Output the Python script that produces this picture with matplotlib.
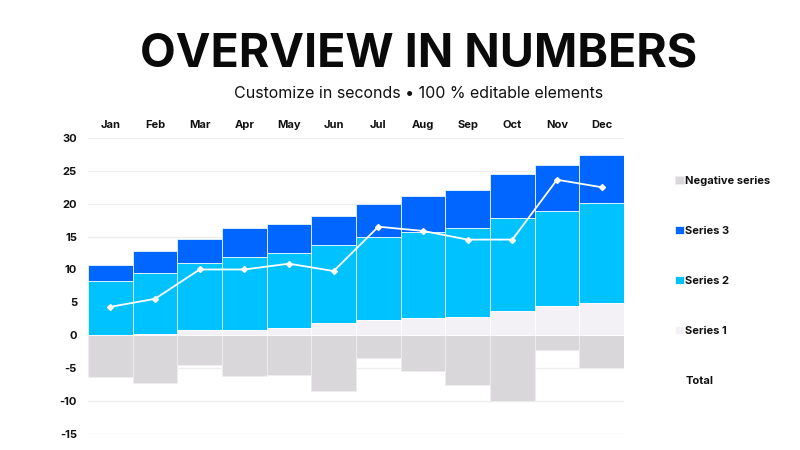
import matplotlib
matplotlib.use("Agg")
import matplotlib.pyplot as plt
import numpy as np

months = ["Jan", "Feb", "Mar", "Apr", "May", "Jun", "Jul", "Aug", "Sep", "Oct", "Nov", "Dec"]
series1 = [0.0, 0.15, 0.76, 0.86, 1.17, 1.83, 2.39, 2.64, 2.85, 3.71, 4.42, 4.83]
series2 = [8.24, 9.31, 10.22, 11.04, 11.33, 11.87, 12.56, 13.12, 13.45, 14.14, 14.48, 15.27]
series3 = [2.44, 3.30, 3.62, 4.37, 4.40, 4.45, 4.98, 5.44, 5.80, 6.71, 7.00, 7.30]
negative = [-6.35, -7.2, -4.58, -6.2, -6.1, -8.44, -3.5, -5.39, -7.63, -10.0, -2.29, -4.93]
total = [4.32, 5.54, 10.0, 10.0, 10.88, 9.76, 16.5, 15.86, 14.54, 14.54, 23.64, 22.5]
yticks = [30, 25, 20, 15, 10, 5, 0, -5, -10, -15]

c_s1 = "#F3F1F5"
c_s2 = "#00C2FF"
c_s3 = "#0066FF"
c_neg = "#D9D7DA"

plt.rcParams['font.family'] = ['Inter', 'DejaVu Sans']

fig = plt.figure(figsize=(8, 4.5), dpi=100)
ax = fig.add_axes([0.11, 0.0356, 0.67, 0.658])

x = np.arange(len(months))
s1 = np.array(series1)
s2 = np.array(series2)
s3 = np.array(series3)
ec = dict(edgecolor="#E8F6FF", linewidth=0.6, width=1.0, zorder=2)
ax.bar(x, negative, color=c_neg, label="Negative series", **dict(ec, edgecolor="#EEEEEE"))
ax.bar(x, s3, bottom=s1 + s2, color=c_s3, label="Series 3", **ec)
ax.bar(x, s2, bottom=s1, color=c_s2, label="Series 2", **ec)
ax.bar(x, s1, color=c_s1, label="Series 1", **dict(ec, edgecolor="#FFFFFF"))
ax.plot(x, total, color="white", lw=1.3, marker="D", ms=3, label="Total", zorder=3)

ax.set_xlim(-0.5, 11.5)
ax.set_ylim(-15, 30)
ax.set_yticks(yticks)
ax.set_yticklabels([str(t) for t in yticks], fontsize=8, fontweight="bold", color="#111111")
ax.yaxis.grid(True, color="#EEEEEE", lw=1, zorder=0)
ax.set_axisbelow(True)
ax.tick_params(axis="y", length=0, pad=8)
ax.xaxis.tick_top()
ax.set_xticks(x)
ax.set_xticklabels(months, fontsize=8, fontweight="bold", color="#111111")
ax.tick_params(axis="x", length=0, pad=6)
for s in ax.spines.values():
    s.set_visible(False)

handles, labels = ax.get_legend_handles_labels()
order = ["Negative series", "Series 3", "Series 2", "Series 1", "Total"]
hmap = dict(zip(labels, handles))
leg = fig.legend([hmap[o] for o in order], order, loc="upper left",
                 bbox_to_anchor=(0.831, 0.632), frameon=False,
                 prop=dict(size=8, weight="bold"), labelspacing=3.6,
                 handlelength=0.8, handleheight=0.8, handletextpad=0.15)
for t in leg.get_texts():
    t.set_color("#111111")

fig.text(0.523, 0.878, "OVERVIEW IN NUMBERS", ha="center", va="center",
         fontsize=33.5, fontweight="bold", color="#0A0A0A")
fig.text(0.523, 0.793, "Customize in seconds \u2022 100 % editable elements", ha="center",
         va="center", fontsize=11.5, color="#111111")

fig.savefig("out.png", dpi=100)
